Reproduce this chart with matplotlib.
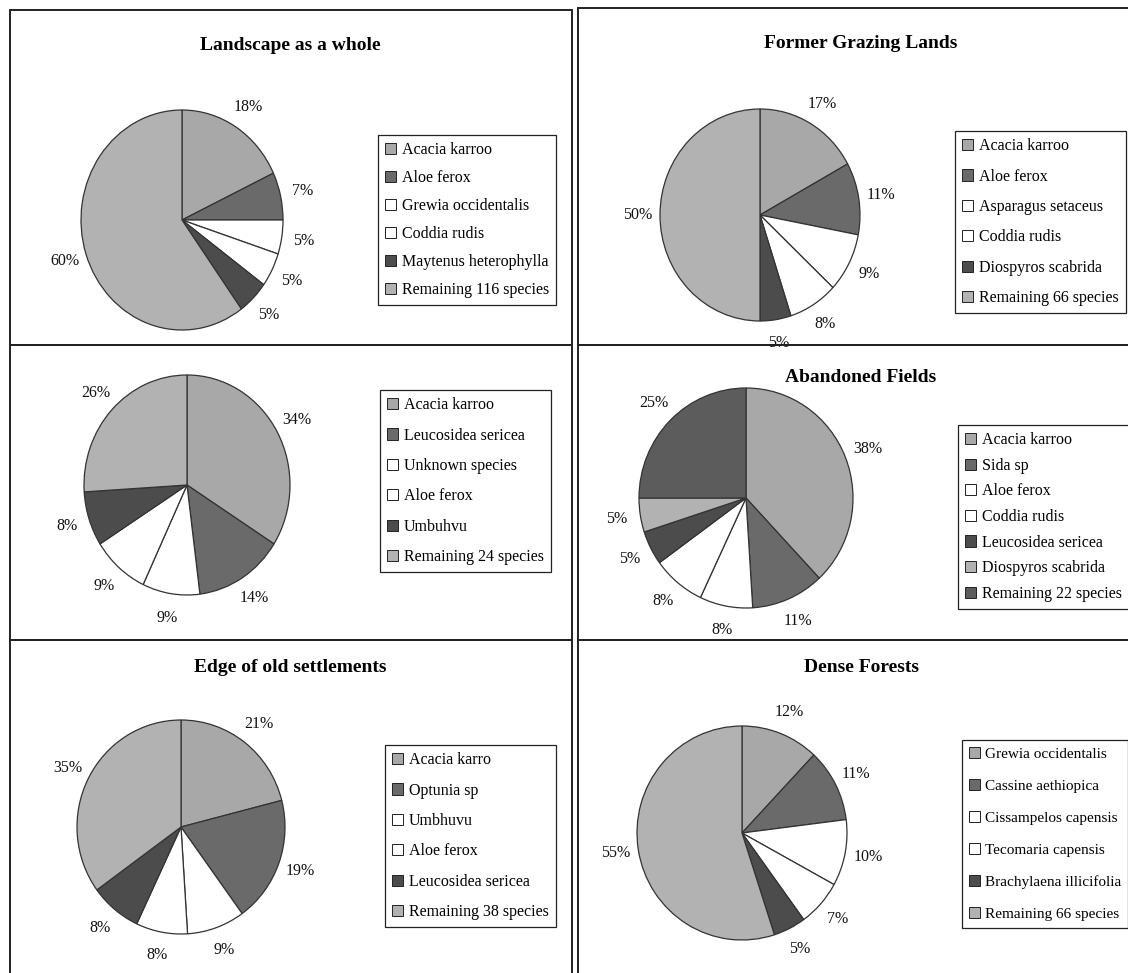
import matplotlib
matplotlib.use("Agg")
import matplotlib.pyplot as plt
from matplotlib.patches import Rectangle, Patch

plt.rcParams['font.family'] = ['Liberation Serif', 'DejaVu Serif']

# species shares (%) per habitat
landscape_species = ['Acacia karroo', 'Aloe ferox', 'Grewia occidentalis', 'Coddia rudis',
                     'Maytenus heterophylla', 'Remaining 116 species']
landscape_pct = [18, 7, 5, 5, 5, 60]

grazing_species = ['Acacia karroo', 'Aloe ferox', 'Asparagus setaceus', 'Coddia rudis',
                   'Diospyros scabrida', 'Remaining 66 species']
grazing_pct = [17, 11, 9, 8, 5, 50]

middle_species = ['Acacia karroo', 'Leucosidea sericea', 'Unknown species', 'Aloe ferox',
                  'Umbuhvu', 'Remaining 24 species']
middle_pct = [34, 14, 9, 9, 8, 26]

fields_species = ['Acacia karroo', 'Sida sp', 'Aloe ferox', 'Coddia rudis',
                  'Leucosidea sericea', 'Diospyros scabrida', 'Remaining 22 species']
fields_pct = [38, 11, 8, 8, 5, 5, 25]

edge_species = ['Acacia karro', 'Optunia sp', 'Umbhuvu', 'Aloe ferox',
                'Leucosidea sericea', 'Remaining 38 species']
edge_pct = [21, 19, 9, 8, 8, 35]

forest_species = ['Grewia occidentalis', 'Cassine aethiopica', 'Cissampelos capensis',
                  'Tecomaria capensis', 'Brachylaena illicifolia', 'Remaining 66 species']
forest_pct = [12, 11, 10, 7, 5, 55]

LIGHT = '#a8a8a8'
LIGHT2 = '#b2b2b2'
MID = '#6a6a6a'
DARK = '#4c4c4c'
WHITE = '#ffffff'
six_colors = [LIGHT, MID, WHITE, WHITE, DARK, LIGHT2]
seven_colors = [LIGHT, MID, WHITE, WHITE, DARK, LIGHT2, '#5c5c5c']

W, H = 1128, 973
fig = plt.figure(figsize=(W / 100, H / 100), dpi=100)
fig.patch.set_facecolor('white')


def px_box(x0, y0, x1, y1):
    return [x0 / W, 1 - y1 / H, (x1 - x0) / W, (y1 - y0) / H]


# panel frames
for x0, y0, x1, y1 in [(10, 10, 572, 345), (10, 345, 572, 640), (10, 640, 572, 980),
                       (578, 8, 1140, 345), (578, 345, 1140, 640), (578, 640, 1140, 980)]:
    fig.patches.append(Rectangle((x0 / W, 1 - y1 / H), (x1 - x0) / W, (y1 - y0) / H,
                                 transform=fig.transFigure, fill=False,
                                 edgecolor='#222222', linewidth=1.4))


def draw_panel(title, title_xy, species, pct, colors, center, radii, legend_xy,
               spacing, pctdist=1.22, fsize=11.5):
    cx, cy = center
    rx, ry = radii
    ax = fig.add_axes(px_box(cx - rx, cy - ry, cx + rx, cy + ry))
    ax.pie(pct, colors=colors, startangle=90, counterclock=False,
           autopct=lambda p: f'{p:.0f}%', pctdistance=pctdist,
           wedgeprops=dict(edgecolor='#333333', linewidth=0.9),
           textprops=dict(fontsize=11.5, color='#111111'))
    ax.set_aspect('auto')
    ax.set_xlim(-1.0, 1.0)
    ax.set_ylim(-1.0, 1.0)
    ax.axis('off')
    if title:
        fig.text(title_xy[0] / W, 1 - title_xy[1] / H, title, ha='center', va='center',
                 fontsize=14, fontweight='bold')
    handles = [Patch(facecolor=c, edgecolor='#222222', linewidth=0.7) for c in colors]
    fig.legend(handles, species, loc='upper left',
               bbox_to_anchor=(legend_xy[0] / W, 1 - legend_xy[1] / H),
               bbox_transform=fig.transFigure, borderaxespad=0, fancybox=False,
               edgecolor='#222222', framealpha=1, fontsize=fsize, handlelength=0.7,
               handleheight=0.7, handletextpad=0.35, labelspacing=spacing,
               borderpad=0.45).get_frame().set_linewidth(0.9)


draw_panel('Landscape as a whole', (290, 45), landscape_species, landscape_pct, six_colors,
           (182, 220), (101, 110), (378, 135), 0.75)
draw_panel('Former Grazing Lands', (861, 44), grazing_species, grazing_pct, six_colors,
           (760, 215), (100, 106), (955, 131), 0.9)
draw_panel(None, None, middle_species, middle_pct, six_colors,
           (187, 485), (103, 110), (380, 390), 0.9)
draw_panel('Abandoned Fields', (861, 378), fields_species, fields_pct, seven_colors,
           (746, 498), (107, 110), (958, 425), 0.6)
draw_panel('Edge of old settlements', (290, 668), edge_species, edge_pct, six_colors,
           (181, 827), (104, 107), (385, 745), 0.9)
draw_panel('Dense Forests', (861, 668), forest_species, forest_pct, six_colors,
           (742, 833), (105, 107), (962, 740), 1.2, fsize=11)

fig.savefig('out.png', dpi=100, facecolor='white')
